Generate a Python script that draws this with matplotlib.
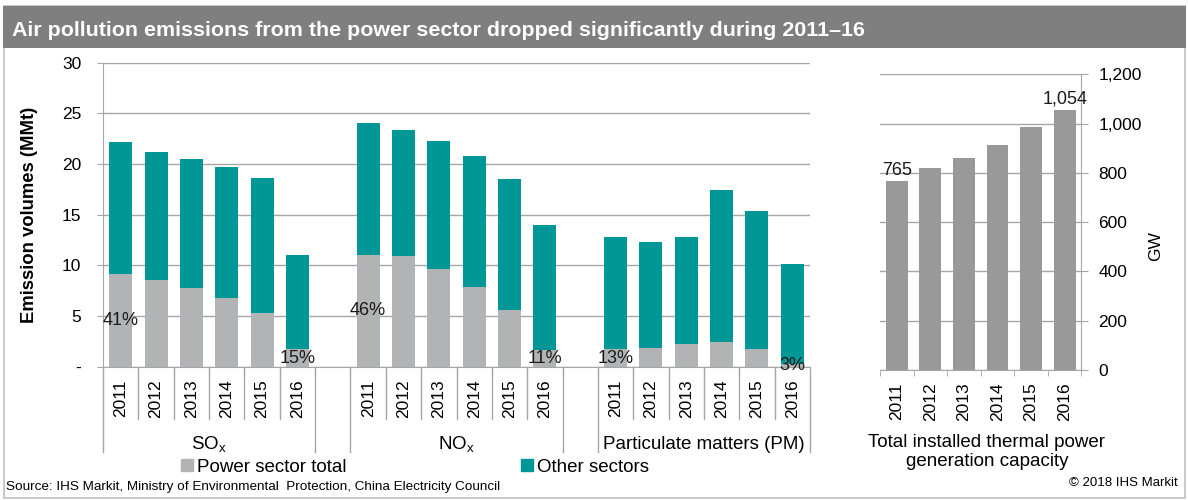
import numpy as np
import matplotlib.pyplot as plt
from matplotlib.patches import Patch, Rectangle
from matplotlib.transforms import blended_transform_factory

plt.rcParams['font.family'] = ['Liberation Sans', 'DejaVu Sans']

# %% data
years = ['2011', '2012', '2013', '2014', '2015', '2016']
groups = ['SO$_\\mathregular{x}$', 'NO$_\\mathregular{x}$', 'Particulate matters (PM)']

so2_total = [22.2, 21.2, 20.5, 19.7, 18.6, 11.0]
so2_power = [9.1, 8.6, 7.8, 6.8, 5.3, 1.7]
nox_total = [24.0, 23.4, 22.3, 20.8, 18.5, 14.0]
nox_power = [11.0, 10.9, 9.6, 7.9, 5.6, 1.6]
pm_total = [12.8, 12.3, 12.8, 17.4, 15.4, 10.1]
pm_power = [1.7, 1.8, 2.2, 2.4, 1.7, 0.3]

so2_share = ['41%', '', '', '', '', '15%']
nox_share = ['46%', '', '', '', '', '11%']
pm_share = ['13%', '', '', '', '', '3%']

capacity = [765, 818, 862, 914, 987, 1054]
capacity_labels = ['765', '', '', '', '', '1,054']

title = 'Air pollution emissions from the power sector dropped significantly during 2011\u201316'
source = 'Source: IHS Markit, Ministry of Environmental  Protection, China Electricity Council'

GRAY = '#B2B3B5'
TEAL = '#009796'
BAR2 = '#999999'
LINE = '#A6A6A6'

fig = plt.figure(figsize=(11.88, 5.0), dpi=100)

# frame + title band
fig.patches.append(Rectangle((4 / 1188, 2 / 500), 1181 / 1188, 492 / 500, transform=fig.transFigure,
                             fill=False, edgecolor='#BFBFBF', lw=1.2, zorder=0))
fig.patches.append(Rectangle((3 / 1188, 1 - 48 / 500), 1183 / 1188, 42 / 500, transform=fig.transFigure,
                             facecolor='#7F7F7F', edgecolor='none', zorder=0))
fig.text(12 / 1188, 1 - 36 / 500, title, color='white', fontsize=15.4, fontweight='bold', va='baseline')

# %% left panel: stacked emissions
ax = fig.add_axes([103 / 1188, 1 - 366.7 / 500, 707 / 1188, 304 / 500])
totals = [so2_total, nox_total, pm_total]
powers = [so2_power, nox_power, pm_power]
shares = [so2_share, nox_share, pm_share]

xpos, xlab = [], []
for g in range(3):
    x = np.arange(6) + g * 7
    power = np.array(powers[g])
    other = np.array(totals[g]) - power
    ax.bar(x, power, width=0.65, color=GRAY, zorder=2)
    ax.bar(x, other, bottom=power, width=0.65, color=TEAL, zorder=2)
    for xi, p, s in zip(x, power, shares[g]):
        if s:
            ax.text(xi, p / 2, s, ha='center', va='center', fontsize=13, color='#1a1a1a', zorder=3)
    xpos.extend(x)
    xlab.extend(years)

ax.set_xlim(-0.5, 19.5)
ax.set_ylim(0, 30)
ax.set_yticks(range(0, 31, 5))
ax.set_yticklabels(['-'] + [str(v) for v in range(5, 31, 5)])
ax.set_xticks(xpos)
ax.set_xticklabels(xlab, rotation=90)
ax.tick_params(axis='y', length=4.5, color=LINE, pad=11, labelsize=12.5)
ax.tick_params(axis='x', length=0, pad=9, labelsize=12.5)
ax.yaxis.grid(True, color=LINE, lw=1)
ax.set_axisbelow(True)
for s in ['top', 'right']:
    ax.spines[s].set_visible(False)
for s in ['left', 'bottom']:
    ax.spines[s].set_color(LINE)
ax.set_ylabel('Emission volumes (MMt)', fontsize=13.3, fontweight='bold')
ax.yaxis.set_label_coords(-0.092, 0.5)

trans = blended_transform_factory(ax.transData, ax.transAxes)
for g in range(3):
    start = g * 7 - 0.5
    for k in range(7):
        depth = -0.28 if k in (0, 6) else -0.172
        ax.plot([start + k, start + k], [0, depth], transform=trans, color=LINE, lw=1, clip_on=False)
    ax.text(g * 7 + 2.5, -0.272, groups[g], transform=trans, ha='center', va='baseline', fontsize=13.5)

# %% right panel: capacity
ax2 = fig.add_axes([880 / 1188, 1 - 370 / 500, 201.5 / 1188, 295.7 / 500])
bars = ax2.bar(range(6), capacity, width=0.65, color=BAR2, zorder=2)
ax2.bar_label(bars, labels=capacity_labels, padding=2, fontsize=13, color='#1a1a1a')
ax2.set_xlim(-0.5, 5.5)
ax2.set_ylim(0, 1200)
ax2.yaxis.tick_right()
ax2.yaxis.set_label_position('right')
ax2.set_yticks(range(0, 1201, 200))
ax2.set_yticklabels([f'{v:,}' for v in range(0, 1201, 200)])
ax2.set_xticks(range(6))
ax2.set_xticklabels(years, rotation=90)
ax2.set_xticks(np.arange(-0.5, 6, 1), minor=True)
ax2.tick_params(axis='x', which='major', length=0, pad=9, labelsize=12.5)
ax2.tick_params(axis='x', which='minor', length=4, color=LINE)
ax2.tick_params(axis='y', length=5, color=LINE, pad=7, labelsize=12.5)
ax2.yaxis.grid(True, color=LINE, lw=1)
ax2.set_axisbelow(True)
for s in ['top', 'left']:
    ax2.spines[s].set_visible(False)
for s in ['right', 'bottom']:
    ax2.spines[s].set_color(LINE)
ax2.set_ylabel('GW', fontsize=12.5, rotation=90)
ax2.yaxis.set_label_coords(1.33, 0.42)

fig.text(987 / 1188, 1 - 452 / 500, 'Total installed thermal power\ngeneration capacity',
         ha='center', va='center', fontsize=13.5, linespacing=1.1)

# %% legend and footer
handles = [Patch(color=GRAY), Patch(color=TEAL)]
fig.legend(handles, ['Power sector total', 'Other sectors'], loc='center left',
           bbox_to_anchor=(181 / 1188, 1 - 467 / 500), ncol=2, frameon=False, fontsize=13.5,
           handlelength=0.65, handleheight=0.65, handletextpad=0.2, columnspacing=9.3,
           borderpad=0, borderaxespad=0)

fig.text(6 / 1188, 1 - 487 / 500, source, fontsize=9.7, va='center')
fig.text(1178 / 1188, 1 - 483 / 500, '\u00a9 2018 IHS Markit', fontsize=9.5, va='center', ha='right')

fig.savefig('out.png', dpi=100)
